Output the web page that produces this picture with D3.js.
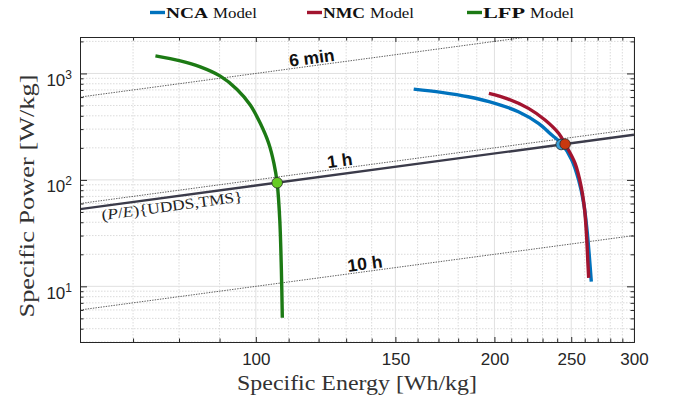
<!DOCTYPE html>
<html><head><meta charset="utf-8">
<script src="https://cdn.jsdelivr.net/npm/d3@7"></script>
<style>body{margin:0;background:#fff}</style>
</head><body>
<svg id="c" width="676" height="408"></svg>
<script>
// ---- data ----
const xDomain = [60, 300];
const yDomain = [3, 2200];
const xMajor = [100, 150, 200, 250, 300];
const xMinor = [60, 70, 80, 90, 110, 120, 130, 140, 160, 170, 180, 190, 210, 220, 230, 240, 260, 270, 280, 290];
const yMajor = [10, 100, 1000];
const yMinor = [3, 4, 5, 6, 7, 8, 9, 20, 30, 40, 50, 60, 70, 80, 90, 200, 300, 400, 500, 600, 700, 800, 900, 2000];

const seriesNames = ["NCA", "NMC", "LFP"];
const ncaE = [158.2, 171.4, 185.3, 200.3, 214.4, 227.3, 236.3, 242.8, 250.4, 255.4, 259.2, 261.7, 263.5, 265.0];
const ncaP = [713, 664, 604, 524, 437, 340, 264, 221, 154, 100, 60.5, 34.0, 19.1, 11.1];
const nmcE = [196.8, 208.2, 220.8, 231.7, 241.0, 245.6, 252.8, 257.3, 259.9, 261.4, 262.4, 263.0];
const nmcP = [649, 574, 470, 365, 274, 217, 143, 86.5, 52.4, 29.4, 16.6, 12.0];
const lfpE = [74.7, 80.3, 85.1, 90.2, 94.7, 98.4, 101.3, 103.8, 105.4, 106.4, 107.2, 107.7, 108.0];
const lfpP = [1462, 1313, 1153, 943, 708, 505, 340, 221, 143, 93.1, 42.2, 14.3, 5.06];

// operating points on the (P/E) line
const opE = [242.8, 245.6, 106.4];
const opP = [215, 217, 94];

// constant discharge-time lines (P/E in 1/h)
const rateK = [10, 1, 0.1];
const rateLabels = ["6 min", "1 h", "10 h"];
const uddsK = 0.885;
const uddsLabel = "{UDDS,TMS}";

// ---- style / layout ----
const colors = ["#0072BD", "#A2142F", "#1C7A14"];
const markFill = ["#3a9fd6", "#c8380f", "#66cc22"];
const rateLabelAt = [118, 128, 137.7];   // energy where label is centred
const uddsLabelAt = 78.1;

const svg = d3.select("#c");
const L = 80, R = 634, T = 37, B = 342;
const x = d3.scaleLog().domain(xDomain).range([L, R]);
const y = d3.scaleLog().domain(yDomain).range([B, T]);

svg.append("defs").append("clipPath").attr("id", "clip")
  .append("rect").attr("x", L).attr("y", T).attr("width", R - L).attr("height", B - T);

// grid
const grid = svg.append("g");
grid.selectAll(".gxm").data(xMinor.filter(v => v > xDomain[0])).join("line")
  .attr("x1", d => x(d)).attr("x2", d => x(d)).attr("y1", T).attr("y2", B)
  .attr("stroke", "#d2d2d2").attr("stroke-width", 0.8).attr("stroke-dasharray", "1.5,1.5");
grid.selectAll(".gym").data(yMinor).join("line")
  .attr("y1", d => y(d)).attr("y2", d => y(d)).attr("x1", L).attr("x2", R)
  .attr("stroke", "#d2d2d2").attr("stroke-width", 0.8).attr("stroke-dasharray", "1.5,1.5");
grid.selectAll(".gxM").data(xMajor).join("line")
  .attr("x1", d => x(d)).attr("x2", d => x(d)).attr("y1", T).attr("y2", B)
  .attr("stroke", "#e0e0e0").attr("stroke-width", 1);
grid.selectAll(".gyM").data(yMajor).join("line")
  .attr("y1", d => y(d)).attr("y2", d => y(d)).attr("x1", L).attr("x2", R)
  .attr("stroke", "#e0e0e0").attr("stroke-width", 1);

const plot = svg.append("g").attr("clip-path", "url(#clip)");

// rate lines
rateK.forEach((k, i) => {
  plot.append("line")
    .attr("x1", x(xDomain[0])).attr("y1", y(k * xDomain[0]))
    .attr("x2", x(xDomain[1])).attr("y2", y(k * xDomain[1]))
    .attr("stroke", "#333").attr("stroke-width", 0.8).attr("stroke-dasharray", "1.4,1.2");
});
plot.append("line")
  .attr("x1", x(xDomain[0])).attr("y1", y(uddsK * xDomain[0]))
  .attr("x2", x(xDomain[1])).attr("y2", y(uddsK * xDomain[1]))
  .attr("stroke", "#3b3b4a").attr("stroke-width", 2.4);

// curves
const line = d3.line().x(d => x(d[0])).y(d => y(d[1])).curve(d3.curveCatmullRom.alpha(0.5));
const seriesE = [ncaE, nmcE, lfpE], seriesP = [ncaP, nmcP, lfpP];
seriesE.forEach((E, i) => {
  plot.append("path").datum(E.map((e, j) => [e, seriesP[i][j]]))
    .attr("d", line).attr("fill", "none").attr("stroke", colors[i])
    .attr("stroke-width", 3.4).attr("stroke-linecap", "butt");
});
opE.forEach((e, i) => {
  plot.append("circle").attr("cx", x(e)).attr("cy", y(opP[i])).attr("r", 5.3)
    .attr("fill", markFill[i]).attr("stroke", "#2a2a2a").attr("stroke-width", 0.8);
});

// labels on lines
const ang = k => Math.atan2(y(k * 200) - y(k * 100), x(200) - x(100)) * 180 / Math.PI;
rateK.forEach((k, i) => {
  const e = rateLabelAt[i];
  svg.append("text")
    .attr("transform", `translate(${x(e)},${y(k * e)}) rotate(${ang(k)})`)
    .attr("y", -2).attr("text-anchor", "middle")
    .attr("font-family", "Liberation Sans, Arial, sans-serif").attr("font-weight", "bold")
    .attr("font-size", 17.5).attr("fill", "#111").text(rateLabels[i]);
});
{
  const e = uddsLabelAt;
  const t = svg.append("text")
    .attr("transform", `translate(${x(e)},${y(uddsK * e)}) rotate(${ang(uddsK)})`)
    .attr("y", 14).attr("text-anchor", "middle")
    .attr("font-family", "Liberation Serif, Times New Roman, serif")
    .attr("font-size", 15).attr("fill", "#222")
    .attr("textLength", 142).attr("lengthAdjust", "spacingAndGlyphs");
  t.append("tspan").text("(");
  t.append("tspan").attr("font-style", "italic").text("P");
  t.append("tspan").text("/");
  t.append("tspan").attr("font-style", "italic").text("E");
  t.append("tspan").text(")" + uddsLabel);
}

// axes
const tickFont = "Liberation Sans, Arial, Helvetica, sans-serif";
function styleAxis(g) {
  g.select(".domain").attr("stroke", "#262626").attr("stroke-width", 1);
  g.selectAll(".tick line").attr("stroke", "#262626").attr("stroke-width", 1);
  g.attr("font-family", tickFont).attr("font-size", 17);
  g.selectAll(".tick text").attr("fill", "#262626");
}
const gB = svg.append("g").attr("transform", `translate(0,${B})`)
  .call(d3.axisBottom(x).tickValues(xMajor).tickFormat(d3.format("d")).tickSize(-5).tickSizeOuter(0).tickPadding(11));
styleAxis(gB);
svg.append("g").attr("transform", `translate(0,${B})`)
  .call(d3.axisBottom(x).tickValues(xMinor).tickFormat("").tickSize(-3.5).tickSizeOuter(0)).call(styleAxis);
svg.append("g").attr("transform", `translate(0,${T})`)
  .call(d3.axisTop(x).tickValues(xMajor).tickFormat("").tickSize(-5).tickSizeOuter(0)).call(styleAxis);
svg.append("g").attr("transform", `translate(0,${T})`)
  .call(d3.axisTop(x).tickValues(xMinor).tickFormat("").tickSize(-3.5).tickSizeOuter(0)).call(styleAxis);

const gL = svg.append("g").attr("transform", `translate(${L},0)`)
  .call(d3.axisLeft(y).tickValues(yMajor).tickSize(-7).tickSizeOuter(0).tickPadding(8));
styleAxis(gL);
gL.selectAll(".tick text").each(function (d) {
  const t = d3.select(this).text(null).attr("dy", null).attr("y", 12);
  t.append("tspan").text("10");
  t.append("tspan").attr("dy", -7).attr("font-size", 12).text(Math.round(Math.log10(d)));
});
svg.append("g").attr("transform", `translate(${L},0)`)
  .call(d3.axisLeft(y).tickValues(yMinor).tickFormat("").tickSize(-3.5).tickSizeOuter(0)).call(styleAxis);
svg.append("g").attr("transform", `translate(${R},0)`)
  .call(d3.axisRight(y).tickValues(yMajor).tickFormat("").tickSize(-7).tickSizeOuter(0)).call(styleAxis);
svg.append("g").attr("transform", `translate(${R},0)`)
  .call(d3.axisRight(y).tickValues(yMinor).tickFormat("").tickSize(-3.5).tickSizeOuter(0)).call(styleAxis);

// axis titles
const serif = "Liberation Serif, Times New Roman, serif";
svg.append("text").attr("x", 357).attr("y", 390).attr("text-anchor", "middle")
  .attr("font-family", serif).attr("font-size", 21).attr("fill", "#333")
  .attr("textLength", 240).attr("lengthAdjust", "spacingAndGlyphs")
  .text("Specific Energy [Wh/kg]");
svg.append("text").attr("transform", "translate(34,196) rotate(-90)").attr("text-anchor", "middle")
  .attr("font-family", serif).attr("font-size", 21).attr("fill", "#333")
  .attr("textLength", 243).attr("lengthAdjust", "spacingAndGlyphs")
  .text("Specific Power [W/kg]");

// legend
const legX = [150, 307, 467];
seriesNames.forEach((n, i) => {
  svg.append("line").attr("x1", legX[i]).attr("x2", legX[i] + 15).attr("y1", 12.5).attr("y2", 12.5)
    .attr("stroke", colors[i]).attr("stroke-width", 3.4);
  svg.append("text").attr("x", legX[i] + 16).attr("y", 17.5).attr("font-family", serif)
    .attr("font-weight", "bold").attr("font-size", 15.5).attr("fill", "#111")
    .attr("textLength", 42).attr("lengthAdjust", "spacingAndGlyphs").text(n);
  svg.append("text").attr("x", legX[i] + 63).attr("y", 17.5).attr("font-family", serif)
    .attr("font-size", 15.5).attr("fill", "#111")
    .attr("textLength", 44).attr("lengthAdjust", "spacingAndGlyphs").text("Model");
});
</script>
</body></html>
